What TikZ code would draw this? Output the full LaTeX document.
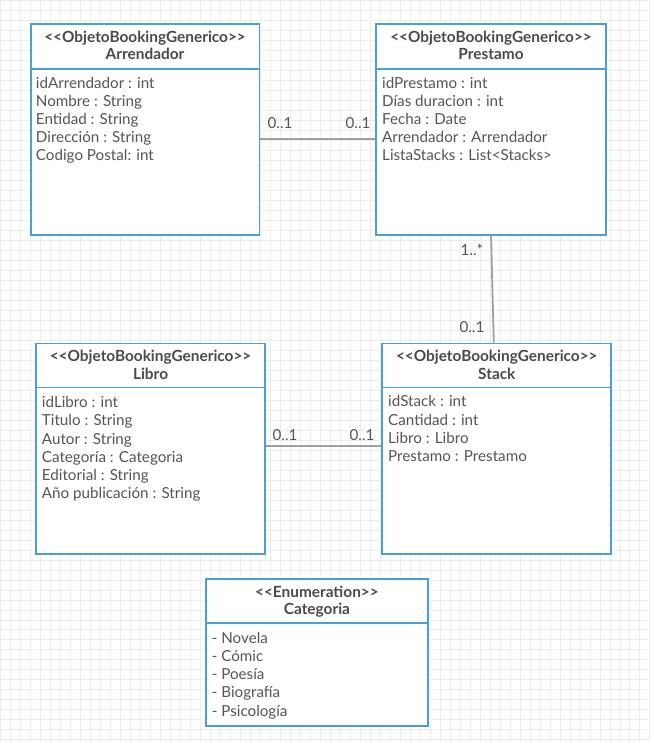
\documentclass[tikz,border=0pt]{standalone}
\usepackage{fontspec}
\setmainfont{Lato}
\definecolor{umlblue}{HTML}{4A9FD5}
\definecolor{ink}{HTML}{555555}
\definecolor{headink}{HTML}{4A4A4A}
\definecolor{linkgray}{HTML}{A0A0A0}
\definecolor{gridgray}{HTML}{EDEDED}
% stereotype in double angle brackets (kerns keep << and >> from becoming guillemets)
\newcommand\stereotag[1]{<\kern0pt<#1>\kern0pt>}
\begin{document}
\begin{tikzpicture}[x=1pt,y=-1pt,
  classbox/.style={draw=umlblue, line width=1.8pt, fill=white, anchor=north west, inner sep=0pt},
  divider/.style={draw=umlblue, line width=1.8pt},
  classhead/.style={font=\bfseries\fontsize{15.4}{17.5}\selectfont, text=headink, align=center, anchor=base, inner sep=0pt},
  attrs/.style={font=\fontsize{15.2}{18.2}\selectfont, text=ink, align=left, anchor=base west, inner sep=0pt},
  assoc/.style={draw=linkgray, line width=1.8pt},
  mult/.style={font=\fontsize{15.2}{15.2}\selectfont, text=ink, anchor=base, inner sep=0pt}]
% canvas with light grid
\fill[white] (0,0) rectangle (650,742);
\draw[gridgray, line width=0.6pt, step=10pt] (0,0) grid (650,742);
\useasboundingbox (0,0) rectangle (650,742);

% (multi-line texts are placed by the baseline of their last line)

% Arrendador
\node[classbox, minimum width=229pt, minimum height=211pt] (arr) at (29.5,23) {};
\draw[divider] ([yshift=-45.5pt]arr.north west) -- ([yshift=-45.5pt]arr.north east);
\node[classhead] (arrh) at ([yshift=-36.5pt]arr.north) {\stereotag{ObjetoBookingGenerico}\\Arrendador};
\node[attrs] (arra) at ([xshift=6pt,yshift=-137.8pt]arr.north west)
  {idArrendador : int\\Nombre : String\\Entidad : String\\Dirección : String\\Codigo Postal: int};

% Prestamo
\node[classbox, minimum width=229.5pt, minimum height=211pt] (pre) at (375.5,23) {};
\draw[divider] ([yshift=-45.5pt]pre.north west) -- ([yshift=-45.5pt]pre.north east);
\node[classhead] (preh) at ([yshift=-36.5pt]pre.north) {\stereotag{ObjetoBookingGenerico}\\Prestamo};
\node[attrs] (prea) at ([xshift=6.5pt,yshift=-137.8pt]pre.north west)
  {idPrestamo : int\\Días duracion : int\\Fecha : Date\\Arrendador : Arrendador\\ListaStacks : List<Stacks>};

% Libro
\node[classbox, minimum width=229pt, minimum height=211pt] (lib) at (35,342.5) {};
\draw[divider] ([yshift=-45pt]lib.north west) -- ([yshift=-45pt]lib.north east);
\node[classhead] (libh) at ([yshift=-36.5pt]lib.north) {\stereotag{ObjetoBookingGenerico}\\Libro};
\node[attrs] (liba) at ([xshift=6.5pt,yshift=-156.3pt]lib.north west)
  {idLibro : int\\Titulo : String\\Autor : String\\Categoría : Categoria\\Editorial : String\\Año publicación : String};

% Stack
\node[classbox, minimum width=229pt, minimum height=211pt] (stk) at (381.5,342.5) {};
\draw[divider] ([yshift=-45pt]stk.north west) -- ([yshift=-45pt]stk.north east);
\node[classhead] (stkh) at ([yshift=-36.5pt]stk.north) {\stereotag{ObjetoBookingGenerico}\\Stack};
\node[attrs] (stka) at ([xshift=6.5pt,yshift=-119pt]stk.north west)
  {idStack : int\\Cantidad : int\\Libro : Libro\\Prestamo : Prestamo};

% Categoria enumeration
\node[classbox, minimum width=222pt, minimum height=146.5pt] (cat) at (205,578.5) {};
\draw[divider] ([yshift=-45pt]cat.north west) -- ([yshift=-45pt]cat.north east);
\node[classhead] (cath) at ([yshift=-36.5pt]cat.north) {\stereotag{Enumeration}\\Categoria};
\node[attrs] (cata) at ([xshift=6.5pt,yshift=-137.8pt]cat.north west)
  {- Novela\\- Cómic\\- Poesía\\- Biografía\\- Psicología};

% associations
\draw[assoc] ([yshift=-9.5pt]arr.east) -- ([yshift=-9.5pt]arr.east -| pre.west);
\draw[assoc] (pre.south) -- ([xshift=-3pt]stk.north);
\draw[assoc] ([yshift=2.8pt]lib.east) -- ([yshift=2.8pt]lib.east -| stk.west);

% multiplicities
\node[mult] (m1) at (280,128.5) {0..1};
\node[mult] (m2) at (358,128.5) {0..1};
\node[mult] (m3) at (472,255) {1..*};
\node[mult] (m4) at (472,332) {0..1};
\node[mult] (m5) at (285,441) {0..1};
\node[mult] (m6) at (362,441) {0..1};
\end{tikzpicture}
\end{document}
